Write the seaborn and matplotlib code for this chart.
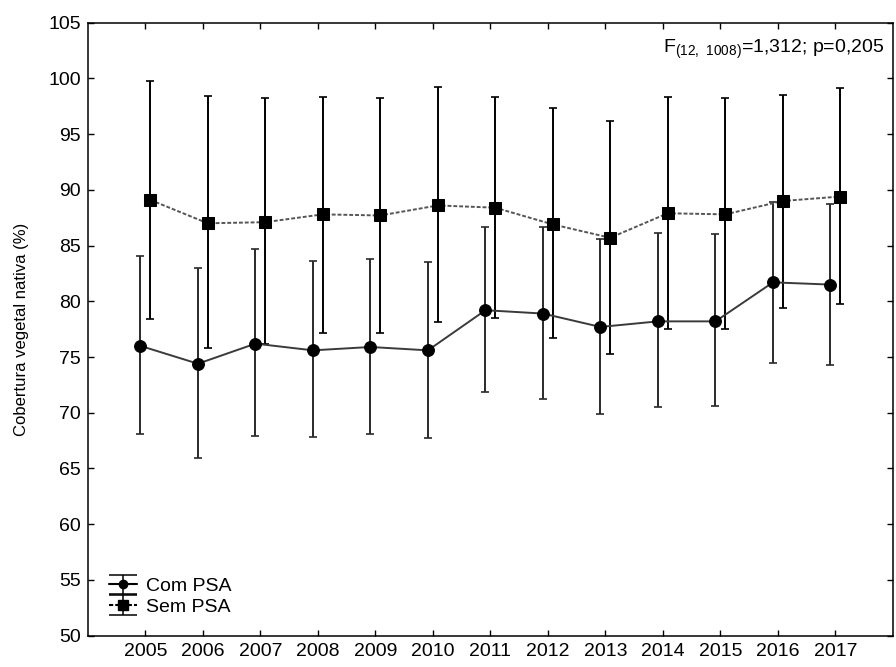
import numpy as np
import pandas as pd
import matplotlib
matplotlib.use("Agg")
import matplotlib.pyplot as plt
import seaborn as sns

sns.set_theme(style="ticks")
plt.rcParams['font.family'] = ['Liberation Sans', 'DejaVu Sans']
plt.rcParams['text.color'] = 'black'
plt.rcParams['axes.labelcolor'] = 'black'

years = [2005, 2006, 2007, 2008, 2009, 2010, 2011, 2012, 2013, 2014, 2015, 2016, 2017]

# Com PSA: mean and whisker ends
com_mean = [76.0, 74.4, 76.2, 75.6, 75.9, 75.6, 79.2, 78.9, 77.7, 78.2, 78.2, 81.7, 81.5]
com_low = [68.1, 65.9, 67.9, 67.8, 68.1, 67.7, 71.9, 71.2, 69.9, 70.5, 70.6, 74.5, 74.3]
com_high = [84.1, 83.0, 84.7, 83.6, 83.8, 83.5, 86.7, 86.7, 85.6, 86.1, 86.0, 88.9, 88.7]

# Sem PSA: mean and whisker ends
sem_mean = [89.1, 87.0, 87.1, 87.8, 87.7, 88.6, 88.4, 86.9, 85.7, 87.9, 87.8, 89.0, 89.4]
sem_low = [78.4, 75.8, 76.2, 77.2, 77.2, 78.1, 78.5, 76.7, 75.3, 77.5, 77.5, 79.4, 79.8]
sem_high = [99.8, 98.4, 98.2, 98.3, 98.2, 99.2, 98.3, 97.3, 96.2, 98.3, 98.2, 98.5, 99.1]

groups = ['Com PSA', 'Sem PSA']
annot = r'F$\mathregular{_{(12,\ 1008)}}$=1,312; p=0,205'

df = pd.DataFrame({
    'ano': years * 2,
    'cobertura': com_mean + sem_mean,
    'grupo': [groups[0]] * len(years) + [groups[1]] * len(years),
})
# small horizontal shift so both groups stay visible
df['x'] = df['ano'] + np.where(df['grupo'] == groups[0], -0.085, 0.085)

fig = plt.figure(figsize=(8.96, 6.67), dpi=100)
ax = fig.add_axes([0.098, 0.047, 0.8985, 0.919])

styles = {
    groups[0]: dict(marker='o', ms=8.5, lc='#3a3a3a', ec='#2a2a2a', ls='-'),
    groups[1]: dict(marker='s', ms=9, lc='#555555', ec='black', ls=(0, (2, 1))),
}
bounds = {groups[0]: (com_low, com_high), groups[1]: (sem_low, sem_high)}

for g in groups:
    d = df[df['grupo'] == g]
    st = styles[g]
    low, high = bounds[g]
    y = d['cobertura'].to_numpy()
    yerr = [y - np.array(low), np.array(high) - y]
    ax.errorbar(d['x'], y, yerr=yerr, fmt='none', ecolor=st['ec'],
                elinewidth=1.4, capsize=3, capthick=1.2, zorder=2)
    sns.lineplot(data=d, x='x', y='cobertura', ax=ax, color=st['lc'],
                 linestyle=st['ls'], linewidth=1.4, marker=st['marker'],
                 markersize=st['ms'], markerfacecolor='black',
                 markeredgecolor='black', legend=False, zorder=3)
    # proxy for the legend
    ax.errorbar([np.nan], [np.nan], yerr=[[np.nan], [np.nan]], fmt=st['marker'],
                linestyle=st['ls'], color='black', ecolor='black', ms=st['ms'] - 2.5,
                elinewidth=1.1, capsize=10, capthick=1.1, label=g)

ax.set_xlim(2004, 2018)
ax.set_ylim(50, 105)
ax.set_xticks(years)
ax.set_yticks(range(50, 106, 5))
ax.set_xlabel('')
ax.set_ylabel('Cobertura vegetal nativa (%)', fontsize=12, labelpad=14)
ax.tick_params(direction='in', top=True, right=True, labelsize=14,
               length=4, width=1, colors='black', pad=5)
for s in ax.spines.values():
    s.set_linewidth(1.1)
    s.set_color('black')

ax.text(0.989, 0.975, annot, transform=ax.transAxes, ha='right', va='top',
        fontsize=14)

ax.legend(loc='lower left', bbox_to_anchor=(0.004, 0.004), frameon=False,
          fontsize=14, handlelength=1.45, handletextpad=0.5, labelspacing=0.15,
          borderaxespad=0.5)

fig.savefig('out.png', dpi=100)
